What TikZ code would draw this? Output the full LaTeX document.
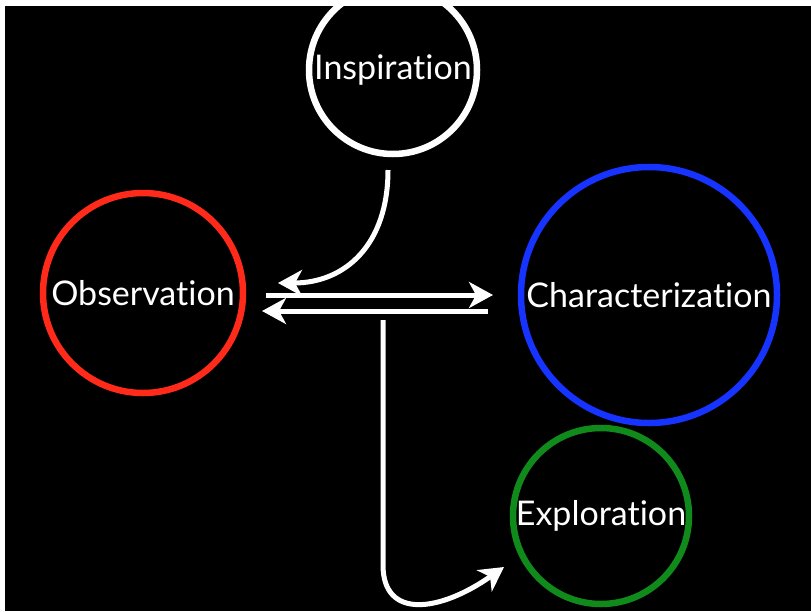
\documentclass[tikz,border=0pt]{standalone}
\usepackage{fontspec}
\setmainfont{Lato}[Ligatures={NoCommon,NoRare,NoContextual}]
\usepackage{tikz}
\usetikzlibrary{arrows.meta,positioning}
\definecolor{obsred}{HTML}{FF2A1A}
\definecolor{charblue}{HTML}{1633FF}
\definecolor{explgreen}{HTML}{108A1A}
\tikzset{
  stage/.style={draw, circle, line width=6.5pt, inner sep=0pt, text=white, font=\fontsize{34}{40}\selectfont},
  flow/.style={-{Stealth[length=24pt, width=26pt, inset=7pt]}, line width=5pt, draw=white}
}

\begin{document}
\begin{tikzpicture}[x=1pt, y=-1pt]
  \useasboundingbox (0,0) rectangle (811,611);
  \fill[white] (0,0) rectangle (811,611);
  \fill[black] (5,6) rectangle (811,611);
  \begin{scope}
    \clip (5,6) rectangle (811,611);
    \node[stage, draw=white, minimum size=168pt] (insp) at (393,70) {Inspiration};
    \node[stage, draw=obsred, minimum size=200pt] (obs) at (143,293) {Observation};
    \node[stage, draw=charblue, minimum size=256pt] (char) at (649,295) {Characterization};
    \node[stage, draw=explgreen, minimum size=176pt] (expl) at (601,516) {Exploration};

    \coordinate (inspout) at (388,170);
    \coordinate (obsin) at (278,283);
    \coordinate (obsout) at (266,295);
    \coordinate (charin) at (493,295);
    \coordinate (charout) at (488,311);
    \coordinate (obsback) at (262,311);
    \coordinate (explout) at (383,320);
    \coordinate (explin) at (504,567);

    \draw[flow] (inspout) .. controls (388,245) and (345,283) .. (obsin);
    \draw[flow] (obsout) -- (charin);
    \draw[flow] (charout) -- (obsback);
    \draw[flow] (explout) -- (383,565) .. controls (383,620) and (440,612) .. (explin);
  \end{scope}
\end{tikzpicture}
\end{document}
